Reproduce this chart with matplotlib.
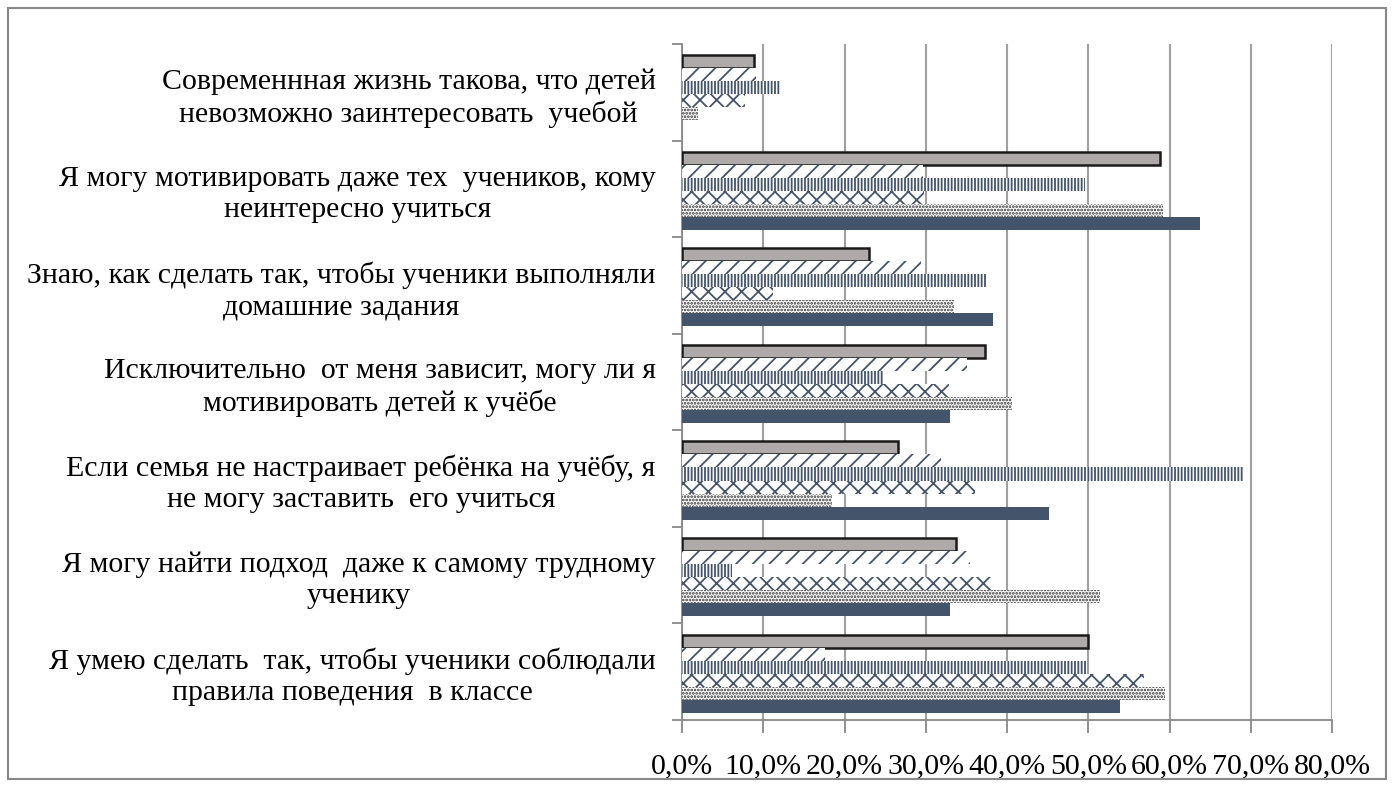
import numpy as np
import matplotlib.pyplot as plt
from matplotlib.patches import Rectangle
from matplotlib.ticker import FixedLocator

plt.rcParams['font.family'] = ['Liberation Serif', 'DejaVu Serif']
plt.rcParams['hatch.linewidth'] = 1.3

categories = [
    'Современнная жизнь такова, что детей\nневозможно заинтересовать  учебой',
    'Я могу мотивировать даже тех  учеников, кому\nнеинтересно учиться',
    'Знаю, как сделать так, чтобы ученики выполняли\nдомашние задания',
    'Исключительно  от меня зависит, могу ли я\nмотивировать детей к учёбе',
    'Если семья не настраивает ребёнка на учёбу, я\nне могу заставить  его учиться',
    'Я могу найти подход  даже к самому трудному\nученику',
    'Я умею сделать  так, чтобы ученики соблюдали\nправила поведения  в классе',
]

# series listed top to bottom inside each group
s_gray = [8.8, 58.8, 23.0, 37.3, 26.6, 33.7, 50.0]
s_slash = [9.1, 29.7, 29.4, 35.1, 31.9, 35.4, 17.6]
s_vert = [12.1, 49.6, 37.4, 24.9, 69.0, 6.2, 49.7]
s_wave = [7.7, 29.8, 11.2, 32.8, 36.0, 38.0, 56.9]
s_dots = [2.0, 59.2, 33.5, 40.6, 18.5, 51.5, 59.5]
s_navy = [0.0, 63.8, 38.3, 33.0, 45.2, 33.0, 53.9]

xticks = [0, 10, 20, 30, 40, 50, 60, 70, 80]
xticklabels = ['0,0%', '10,0%', '20,0%', '30,0%', '40,0%', '50,0%', '60,0%', '70,0%', '80,0%']

navy = '#44546A'
styles = [
    dict(color='#AEAAAA', edgecolor='#1a1a1a', linewidth=1.8),
    dict(color='white', edgecolor=navy, hatch='//', linewidth=0),
    dict(color='white', edgecolor=navy, hatch='|||||', linewidth=0),
    dict(color='white', edgecolor=navy, hatch='xx', linewidth=0),
    dict(color='white', edgecolor='#333333', hatch='.....', linewidth=0),
    dict(color=navy, edgecolor=navy, linewidth=0),
]
series = [s_gray, s_slash, s_vert, s_wave, s_dots, s_navy]

fig = plt.figure(figsize=(13.94, 7.87), dpi=100)
ax = fig.add_axes([682 / 1394, 1 - 720 / 787, 650 / 1394, 676 / 787])

y = np.arange(len(categories))
h = 0.135
for j, (vals, st) in enumerate(zip(series, styles)):
    ax.barh(y + (j - 2.5) * h + 0.02, vals, height=h, zorder=3, **st)

ax.set_xlim(0, 80)
ax.set_ylim(len(categories) - 0.5, -0.5)
ax.set_xticks(xticks)
ax.set_xticklabels(xticklabels, fontsize=21.5)
ax.xaxis.grid(True, color='#A0A0A0', linewidth=1.5, zorder=0)

ax.yaxis.set_major_locator(FixedLocator(np.arange(len(categories) + 1) - 0.5))
ax.set_yticklabels([])
ax.yaxis.set_minor_locator(FixedLocator(y))
ax.set_yticklabels(categories, minor=True, fontsize=21.5)
for lab in ax.get_yticklabels(minor=True):
    lab.set_multialignment('center')
    lab.set_linespacing(1.25)
ax.tick_params(axis='y', which='major', length=7, color='#888888', width=1.3)
ax.tick_params(axis='y', which='minor', length=0, pad=19)
ax.tick_params(axis='x', length=9, color='#888888', width=1.3, pad=15)

for side in ['top', 'right']:
    ax.spines[side].set_visible(False)
for side in ['left', 'bottom']:
    ax.spines[side].set_color('#888888')
    ax.spines[side].set_linewidth(1.3)

fig.patches.append(Rectangle((8 / 1394, 8 / 787), 1378 / 1394, 771 / 787,
                             transform=fig.transFigure, fill=False,
                             edgecolor='#888888', linewidth=1.5))

fig.savefig('out.png', dpi=100)
